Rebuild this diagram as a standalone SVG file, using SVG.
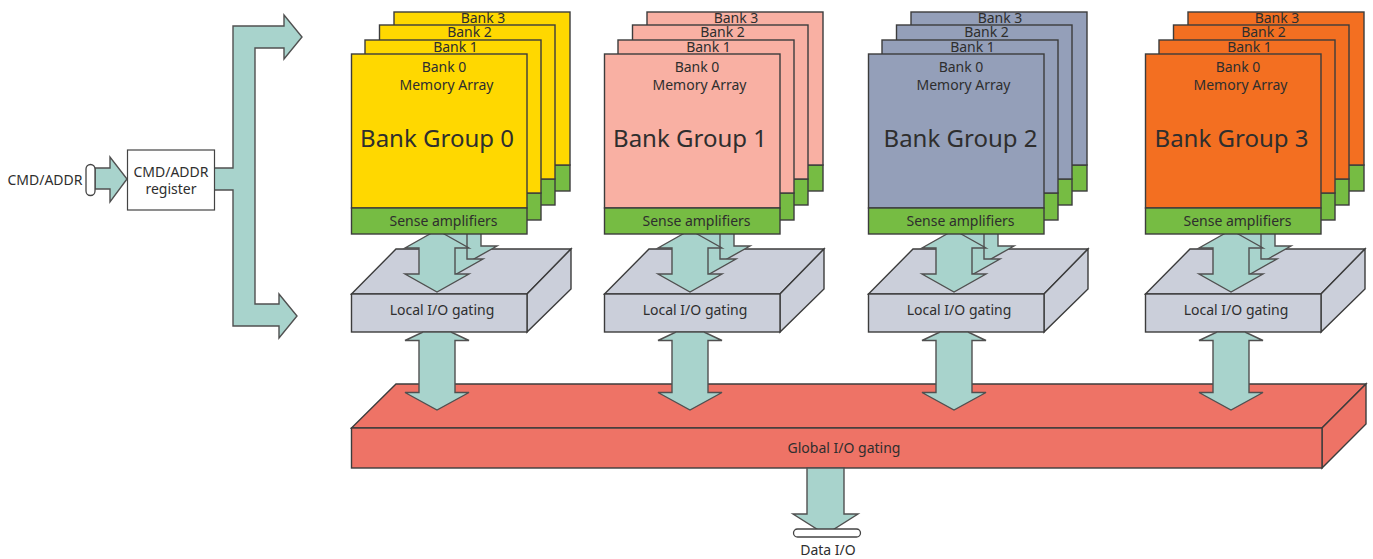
<svg xmlns="http://www.w3.org/2000/svg" width="1373" height="559" viewBox="0 0 1373 559">
<style>
text{font-family:"Noto Sans","Open Sans","Liberation Sans",sans-serif;fill:#2e2e2e;font-size:14px;text-anchor:middle}
.l{stroke:#3c3c3c;stroke-width:1.4;stroke-linejoin:miter}
.a{fill:#a8d3cc;stroke:#505050;stroke-width:1.4}
.g{fill:#76bc43}
.io{fill:#cbcfda}
.gl{fill:#ee7366}
.big{font-size:24px}
.p{fill:#fff;stroke:#444;stroke-width:1.3}
.y{fill:#ffd800}.s{fill:#f9b0a3}.b{fill:#949fb9}.o{fill:#f36f21}
</style>
<defs>
<g id="ioShape">
<polygon class="l io" points="351.5,294 396,249 571,249 527,294"/>
<polygon class="l io" points="527,294 571,249 571,289 527,332"/>
<rect class="l io" x="351.5" y="294" width="175.5" height="38"/>
</g>
<g id="up3"><polygon class="a" points="447,225 481,225 481,246 497,246 465,264 433,264 447,250"/></g>
<g id="up2"><polygon class="a" points="433,225 467,225 467,259 483,259 451,277 419,277 433,263"/></g>
<g id="up1"><polygon class="a" points="437,230 469,248 455,248 455,274 469,274 437,292 405,274 419,274 419,248 405,248"/></g>
<g id="down1"><polygon class="a" points="423,332 451,332 469,340.500 455,340.500 455,392.500 469,392.500 437,410 405,392.500 419,392.500 419,340.500 405,340.500"/></g>
<g id="stack">
<rect class="l g" x="394" y="165" width="176" height="26"/>
<rect class="l g" x="379.500" y="179" width="175.500" height="26"/>
<rect class="l g" x="365" y="193" width="176" height="27"/>
</g>
</defs>
<g id="global-io-gating">
<polygon class="l gl" points="351.500,428 396,384 1366,384 1322,428"/>
<polygon class="l gl" points="1322,428 1366,384 1366,424 1322,468"/>
<rect class="l gl" x="351.500" y="428" width="970.500" height="40"/>
<text x="844" y="453">Global I/O gating</text>
</g>
<g id="local-io-0"><use href="#ioShape"/><text x="442" y="315">Local I/O gating</text></g>
<g id="local-io-1" transform="translate(253 0)"><use href="#ioShape"/><text x="442" y="315">Local I/O gating</text></g>
<g id="local-io-2" transform="translate(517 0)"><use href="#ioShape"/><text x="442" y="315">Local I/O gating</text></g>
<g id="local-io-3" transform="translate(794 0)"><use href="#ioShape"/><text x="442" y="315">Local I/O gating</text></g>
<g id="connectors">
<polygon class="a" points="214,168 233,168 233,26 284,26 284,15 302,37 284,59 284,48 255,48 255,304 279,304 279,294 297,316 279,338 279,326 233,326 233,190 214,190"/>
<polygon class="a" points="95,168 110,168 110,157 127,179 110,202 110,189 95,189"/>
<polygon class="a" points="807,468 844,468 844,514 858,514 831,531 820,531 793,514 807,514"/>
<g><use href="#up3"/><use href="#up2"/><use href="#up1"/><use href="#down1"/></g>
<g transform="translate(253 0)"><use href="#up3"/><use href="#up2"/><use href="#up1"/><use href="#down1"/></g>
<g transform="translate(517 0)"><use href="#up3"/><use href="#up2"/><use href="#up1"/><use href="#down1"/></g>
<g transform="translate(794 0)"><use href="#up3"/><use href="#up2"/><use href="#up1"/><use href="#down1"/></g>
</g>
<g id="bank-group-0">
<use href="#stack"/>
<rect class="l y" x="394" y="12" width="176" height="153"/><text x="483" y="23">Bank 3</text>
<rect class="l y" x="379.500" y="25" width="175.500" height="154"/><text x="469.500" y="37">Bank 2</text>
<rect class="l y" x="365" y="40" width="176" height="153"/><text x="455.500" y="52">Bank 1</text>
<rect class="l y" x="351.500" y="54" width="175.500" height="154"/><text x="444" y="72">Bank 0</text><text x="446.500" y="90">Memory Array</text>
<text class="big" x="437" y="147">Bank Group 0</text>
<rect class="l g" x="351.500" y="208" width="175.500" height="26"/><text x="443.500" y="226">Sense amplifiers</text>
</g>
<g id="bank-group-1" transform="translate(253 0)">
<use href="#stack"/>
<rect class="l s" x="394" y="12" width="176" height="153"/><text x="483" y="23">Bank 3</text>
<rect class="l s" x="379.500" y="25" width="175.500" height="154"/><text x="469.500" y="37">Bank 2</text>
<rect class="l s" x="365" y="40" width="176" height="153"/><text x="455.500" y="52">Bank 1</text>
<rect class="l s" x="351.500" y="54" width="175.500" height="154"/><text x="444" y="72">Bank 0</text><text x="446.500" y="90">Memory Array</text>
<text class="big" x="437" y="147">Bank Group 1</text>
<rect class="l g" x="351.500" y="208" width="175.500" height="26"/><text x="443.500" y="226">Sense amplifiers</text>
</g>
<g id="bank-group-2" transform="translate(517 0)">
<use href="#stack"/>
<rect class="l b" x="394" y="12" width="176" height="153"/><text x="483" y="23">Bank 3</text>
<rect class="l b" x="379.500" y="25" width="175.500" height="154"/><text x="469.500" y="37">Bank 2</text>
<rect class="l b" x="365" y="40" width="176" height="153"/><text x="455.500" y="52">Bank 1</text>
<rect class="l b" x="351.500" y="54" width="175.500" height="154"/><text x="444" y="72">Bank 0</text><text x="446.500" y="90">Memory Array</text>
<text class="big" x="443.500" y="147">Bank Group 2</text>
<rect class="l g" x="351.500" y="208" width="175.500" height="26"/><text x="443.500" y="226">Sense amplifiers</text>
</g>
<g id="bank-group-3" transform="translate(794 0)">
<use href="#stack"/>
<rect class="l o" x="394" y="12" width="176" height="153"/><text x="483" y="23">Bank 3</text>
<rect class="l o" x="379.500" y="25" width="175.500" height="154"/><text x="469.500" y="37">Bank 2</text>
<rect class="l o" x="365" y="40" width="176" height="153"/><text x="455.500" y="52">Bank 1</text>
<rect class="l o" x="351.500" y="54" width="175.500" height="154"/><text x="444" y="72">Bank 0</text><text x="446.500" y="90">Memory Array</text>
<text class="big" x="437.500" y="147">Bank Group 3</text>
<rect class="l g" x="351.500" y="208" width="175.500" height="26"/><text x="443.500" y="226">Sense amplifiers</text>
</g>
<g id="cmd-addr-register">
<rect x="127.500" y="150" width="87" height="60" fill="#fff" stroke="#444" stroke-width="1.2"/>
<text x="171" y="177">CMD/ADDR</text><text x="171" y="194">register</text>
</g>
<g id="cmd-addr-port">
<rect class="p" x="86" y="164.500" width="9" height="31" rx="4.500"/>
<text x="45" y="185">CMD/ADDR</text>
</g>
<g id="data-io-port">
<rect class="p" x="793.500" y="529" width="67" height="8" rx="4"/>
<text x="828" y="555">Data I/O</text>
</g>
</svg>
